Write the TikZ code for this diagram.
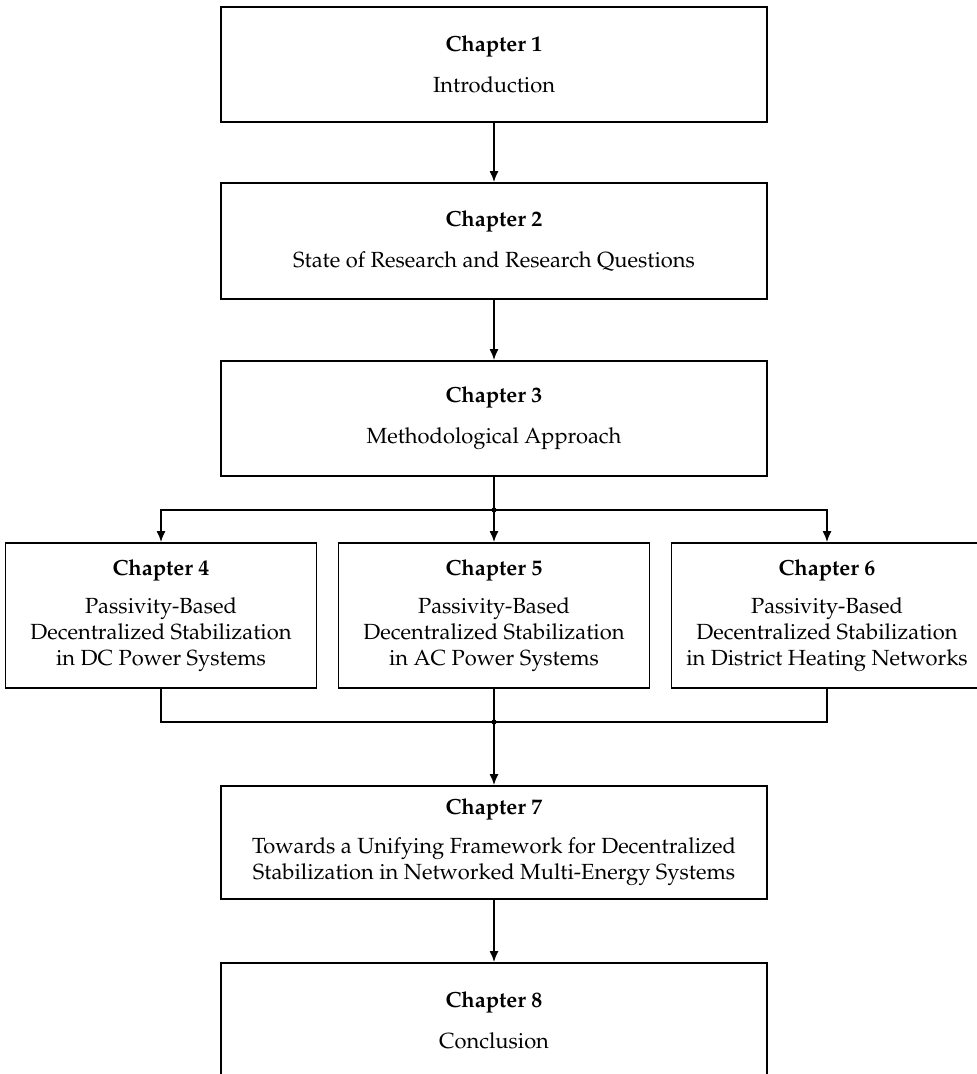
\documentclass[tikz,border=0pt]{standalone}
\usepackage[T1]{fontenc}
\usepackage{mathpazo}
\usetikzlibrary{arrows.meta}
\tikzset{
  chapbox/.style={draw, line width=0.9pt, rectangle, align=center, inner sep=0pt,
    font=\fontsize{10.95pt}{13pt}\selectfont},
  bigbox/.style={chapbox, minimum width=273pt},
  smallbox/.style={chapbox, minimum width=155.5pt, minimum height=72.5pt},
  conn/.style={line width=0.8pt},
  arr/.style={conn, -{Latex[length=5.5pt,width=4.5pt]}},
  jdot/.style={fill=black}
}
\begin{document}
\begin{tikzpicture}[x=0.5pt,y=-0.5pt]
\useasboundingbox (0,0) rectangle (976,1074);
\node[bigbox, minimum height=57.5pt] (c1) at (494,64.5) {\textbf{Chapter 1}\\[7.5pt]Introduction};
\node[bigbox, minimum height=58pt] (c2) at (494,241) {\textbf{Chapter 2}\\[7.5pt]State of Research and Research Questions};
\node[bigbox, minimum height=57.5pt] (c3) at (494,418.5) {\textbf{Chapter 3}\\[7.5pt]Methodological Approach};
\node[smallbox] (c4) at (161,615.5) {\textbf{Chapter 4}\\[6pt]Passivity-Based\\Decentralized Stabilization\\in DC Power Systems};
\node[smallbox] (c5) at (494,615.5) {\textbf{Chapter 5}\\[6pt]Passivity-Based\\Decentralized Stabilization\\in AC Power Systems};
\node[smallbox] (c6) at (827,615.5) {\textbf{Chapter 6}\\[6pt]Passivity-Based\\Decentralized Stabilization\\in District Heating Networks};
\node[bigbox, minimum height=56.5pt] (c7) at (494,842.5) {\textbf{Chapter 7}\\[6.5pt]Towards a Unifying Framework for Decentralized\\Stabilization in Networked Multi-Energy Systems};
\node[bigbox, minimum height=57.5pt] (c8) at (494,1020.5) {\textbf{Chapter 8}\\[7.5pt]Conclusion};
\coordinate (j1) at (494,510);
\coordinate (j2) at (494,722);
\draw[arr] (c1) -- (c2);
\draw[arr] (c2) -- (c3);
\draw[conn] (c3) -- (j1);
\draw[arr] (j1) -| (c4);
\draw[arr] (j1) -- (c5);
\draw[arr] (j1) -| (c6);
\draw[conn] (c4) |- (j2);
\draw[conn] (c6) |- (j2);
\draw[conn] (c5) -- (j2);
\draw[arr] (j2) -- (c7);
\draw[arr] (c7) -- (c8);
\fill[jdot] (j1) circle (1.3pt);
\fill[jdot] (j2) circle (1.3pt);
\end{tikzpicture}
\end{document}
